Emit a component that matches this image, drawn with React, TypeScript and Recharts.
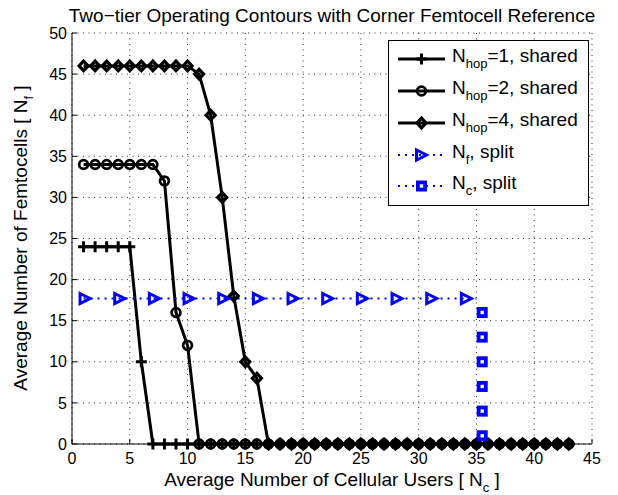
import { CartesianGrid, Line, LineChart, XAxis, YAxis } from 'recharts';

const users = [
  1, 2, 3, 4, 5, 6, 7, 8, 9, 10, 11, 12, 13, 14, 15, 16, 17, 18, 19, 20, 21, 22,
  23, 24, 25, 26, 27, 28, 29, 30, 31, 32, 33, 34, 35, 36, 37, 38, 39, 40, 41, 42, 43,
];
const hop1 = [
  24, 24, 24, 24, 24, 10, 0, 0, 0, 0, 0, 0, 0, 0, 0, 0, 0, 0, 0, 0, 0, 0,
  0, 0, 0, 0, 0, 0, 0, 0, 0, 0, 0, 0, 0, 0, 0, 0, 0, 0, 0, 0, 0,
];
const hop2 = [
  34, 34, 34, 34, 34, 34, 34, 32, 16, 12, 0, 0, 0, 0, 0, 0, 0, 0, 0, 0, 0, 0,
  0, 0, 0, 0, 0, 0, 0, 0, 0, 0, 0, 0, 0, 0, 0, 0, 0, 0, 0, 0, 0,
];
const hop4 = [
  46, 46, 46, 46, 46, 46, 46, 46, 46, 46, 45, 40, 30, 18, 10, 8, 0, 0, 0, 0, 0, 0,
  0, 0, 0, 0, 0, 0, 0, 0, 0, 0, 0, 0, 0, 0, 0, 0, 0, 0, 0, 0, 0,
];
// split scheme: femtocell level (markers every 3rd user) and cellular column
const splitFemtoX = [1, 4, 7, 10, 13, 16, 19, 22, 25, 28, 31, 34, 35];
const splitFemtoY = [17.7, 17.7, 17.7, 17.7, 17.7, 17.7, 17.7, 17.7, 17.7, 17.7, 17.7, 17.7, 17.7];
const splitCellX = [35.5, 35.5, 35.5, 35.5, 35.5, 35.5];
const splitCellY = [16, 13, 10, 7, 4, 1];

const xTicks = [0, 5, 10, 15, 20, 25, 30, 35, 40, 45];
const yTicks = [0, 5, 10, 15, 20, 25, 30, 35, 40, 45, 50];

const zip = (xs: number[], ys: number[]) => xs.map((x, i) => ({ x, y: ys[i] }));

const hop1Data = zip(users, hop1);
const hop2Data = zip(users, hop2);
const hop4Data = zip(users, hop4);
const femtoData = zip(splitFemtoX, splitFemtoY);
const cellData = zip(splitCellX, splitCellY);

const BLUE = '#0000ff';
const FONT = '"Liberation Sans", Arial, Helvetica, sans-serif';

const Plus = ({ cx, cy }: { cx: number; cy: number }) => (
  <path d={`M${cx - 5.5},${cy}H${cx + 5.5}M${cx},${cy - 5.5}V${cy + 5.5}`} stroke="#000" strokeWidth={3} fill="none" />
);
const Ring = ({ cx, cy }: { cx: number; cy: number }) => (
  <circle cx={cx} cy={cy} r={4.4} stroke="#000" strokeWidth={2.8} fill="none" />
);
const Diamond = ({ cx, cy }: { cx: number; cy: number }) => (
  <path
    d={`M${cx},${cy - 4.8}L${cx + 4.5},${cy}L${cx},${cy + 4.8}L${cx - 4.5},${cy}Z`}
    stroke="#000"
    strokeWidth={3.2}
    strokeLinejoin="miter"
    fill="none"
  />
);
const Tri = ({ cx, cy }: { cx: number; cy: number }) => (
  <path
    d={`M${cx - 3.5},${cy - 5}L${cx + 6.5},${cy}L${cx - 3.5},${cy + 5}Z`}
    stroke={BLUE}
    strokeWidth={3}
    fill="none"
  />
);
const Sq = ({ cx, cy }: { cx: number; cy: number }) => (
  <rect x={cx - 3.6} y={cy - 3.6} width={7.2} height={7.2} stroke={BLUE} strokeWidth={3.8} fill="#fff" />
);

const LegendRow = ({ y, kind, main, sub, rest }: { y: number; kind: string; main: string; sub: string; rest: string }) => {
  const ly = y - 3;
  const blue = kind === 'tri' || kind === 'sq';
  return (
    <g>
      <line
        x1={398}
        x2={445}
        y1={ly}
        y2={ly}
        stroke={blue ? BLUE : '#000'}
        strokeWidth={blue ? 2.2 : 3}
        strokeDasharray={blue ? '2 5' : undefined}
      />
      {kind === 'plus' && <Plus cx={421.5} cy={ly} />}
      {kind === 'ring' && <Ring cx={421.5} cy={ly} />}
      {kind === 'diamond' && <Diamond cx={421.5} cy={ly} />}
      {kind === 'tri' && <Tri cx={420} cy={ly} />}
      {kind === 'sq' && <Sq cx={421.5} cy={ly} />}
      <text x={452} y={y} fontSize={19} fill="#000">
        {main}
        <tspan fontSize={13} dy={6}>{sub}</tspan>
        <tspan dy={-6}>{rest}</tspan>
      </text>
    </g>
  );
};

export default function App() {
  return (
    <div style={{ position: 'absolute', left: 0, top: 0, width: 618, height: 495, background: '#fff', fontFamily: FONT }}>
      <LineChart width={618} height={495} margin={{ top: 33, right: 26, bottom: 0, left: 0 }}>
        <CartesianGrid stroke="#333" strokeDasharray="1 4.5" />
        <XAxis
          dataKey="x"
          type="number"
          domain={[0, 45]}
          ticks={xTicks}
          height={51}
          tickSize={-5}
          tickMargin={14}
          axisLine={{ stroke: '#000' }}
          tickLine={{ stroke: '#000' }}
          tick={{ fontSize: 16, fill: '#000' }}
          allowDuplicatedCategory={false}
        />
        <XAxis
          xAxisId="top"
          orientation="top"
          dataKey="x"
          type="number"
          domain={[0, 45]}
          ticks={xTicks}
          height={0}
          tickSize={-5}
          tick={false}
          axisLine={{ stroke: '#000' }}
          tickLine={{ stroke: '#000' }}
        />
        <YAxis
          type="number"
          domain={[0, 50]}
          ticks={yTicks}
          width={72}
          tickSize={-5}
          tickMargin={10}
          axisLine={{ stroke: '#000' }}
          tickLine={{ stroke: '#000' }}
          tick={{ fontSize: 16, fill: '#000' }}
        />
        <YAxis
          yAxisId="right"
          orientation="right"
          type="number"
          domain={[0, 50]}
          ticks={yTicks}
          width={0}
          tickSize={-5}
          tick={false}
          axisLine={{ stroke: '#000' }}
          tickLine={{ stroke: '#000' }}
        />
        <Line
          data={hop1Data}
          dataKey="y"
          stroke="#000"
          strokeWidth={3}
          isAnimationActive={false}
          dot={(p: any) => <Plus key={`a${p.index}`} cx={p.cx} cy={p.cy} />}
        />
        <Line
          data={hop2Data}
          dataKey="y"
          stroke="#000"
          strokeWidth={3}
          isAnimationActive={false}
          dot={(p: any) => <Ring key={`b${p.index}`} cx={p.cx} cy={p.cy} />}
        />
        <Line
          data={hop4Data}
          dataKey="y"
          stroke="#000"
          strokeWidth={3}
          isAnimationActive={false}
          dot={(p: any) => <Diamond key={`c${p.index}`} cx={p.cx} cy={p.cy} />}
        />
        <Line
          data={femtoData}
          dataKey="y"
          stroke={BLUE}
          strokeWidth={2.2}
          strokeDasharray="2 5"
          isAnimationActive={false}
          dot={(p: any) =>
            p.index < splitFemtoX.length - 1 ? <Tri key={`d${p.index}`} cx={p.cx} cy={p.cy} /> : <g key={`d${p.index}`} />
          }
        />
        <Line
          data={cellData}
          dataKey="y"
          stroke="none"
          isAnimationActive={false}
          dot={(p: any) => <Sq key={`e${p.index}`} cx={p.cx} cy={p.cy} />}
        />
      </LineChart>
      <svg width={618} height={495} style={{ position: 'absolute', left: 0, top: 0, pointerEvents: 'none' }}>
        <text x={332} y={22} fontSize={19} textAnchor="middle" fill="#000">
          Two−tier Operating Contours with Corner Femtocell Reference
        </text>
        <text x={332} y={486} fontSize={19} textAnchor="middle" fill="#000">
          Average Number of Cellular Users [ N<tspan fontSize={13} dy={6}>c</tspan>
          <tspan dy={-6}> ]</tspan>
        </text>
        <text x={27} y={238} fontSize={19} textAnchor="middle" fill="#000" transform="rotate(-90 27 238)">
          Average Number of Femtocells [ N<tspan fontSize={13} dy={6}>f</tspan>
          <tspan dy={-6}> ]</tspan>
        </text>
        <rect x={388.5} y={40.5} width={200} height={165} fill="#fff" stroke="#000" strokeWidth={1} />
        <LegendRow y={62} kind="plus" main="N" sub="hop" rest="=1, shared" />
        <LegendRow y={94} kind="ring" main="N" sub="hop" rest="=2, shared" />
        <LegendRow y={126} kind="diamond" main="N" sub="hop" rest="=4, shared" />
        <LegendRow y={158} kind="tri" main="N" sub="f" rest=", split" />
        <LegendRow y={189} kind="sq" main="N" sub="c" rest=", split" />
      </svg>
    </div>
  );
}
